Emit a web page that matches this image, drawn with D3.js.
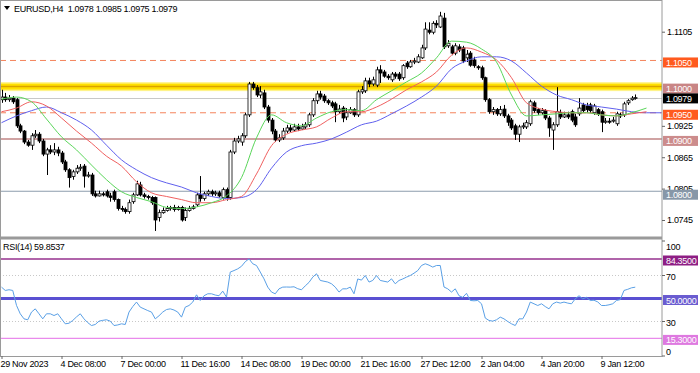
<!DOCTYPE html>
<html><head><meta charset="utf-8">
<script src="https://cdn.jsdelivr.net/npm/d3@7"></script>
<style>body{margin:0;background:#fff;} svg{display:block;font-family:"Liberation Sans",Arial,sans-serif;} text{letter-spacing:-0.3px;}</style>
</head><body><svg id="c" width="700" height="373"></svg>
<script>
// ---------- DATA ----------
const symbolTitle = "EURUSD,H4  1.0978 1.0985 1.0975 1.0979";
const rsiTitle = "RSI(14) 59.8537";
const opens = [1.0975,1.0980,1.0975,1.0978,1.0975,1.0925,1.0915,1.0894,1.0888,1.0906,
1.0909,1.0896,1.0871,1.0879,1.0875,1.0879,1.0873,1.0856,1.0841,1.0828,
1.0837,1.0844,1.0848,1.0829,1.0831,1.0795,1.0791,1.0795,1.0799,1.0791,
1.0799,1.0784,1.0767,1.0765,1.0761,1.0780,1.0793,1.0812,1.0793,1.0790,
1.0788,1.0788,1.0750,1.0759,1.0763,1.0767,1.0769,1.0765,1.0769,1.0750,
1.0763,1.0767,1.0774,1.0793,1.0786,1.0795,1.0799,1.0795,1.0797,1.0788,
1.0803,1.0788,1.0875,1.0896,1.0894,1.0906,1.0946,1.1005,1.0998,1.0984,
1.0988,1.0961,1.0936,1.0915,1.0898,1.0902,1.0915,1.0921,1.0917,1.0923,
1.0919,1.0923,1.0927,1.0946,1.0973,1.0986,1.0982,1.0973,1.0969,1.0967,
1.0952,1.0959,1.0942,1.0950,1.0956,1.0946,1.0990,1.0992,1.1011,1.1005,
1.1003,1.1032,1.1028,1.1020,1.1013,1.1024,1.1024,1.1017,1.1045,1.1038,
1.1047,1.1047,1.1055,1.1074,1.1108,1.1104,1.1121,1.1114,1.1131,1.1078,
1.1076,1.1064,1.1076,1.1074,1.1055,1.1064,1.1051,1.1038,1.1036,1.1017,
1.0975,1.0952,1.0956,1.0948,1.0957,1.0944,1.0936,1.0925,1.0909,1.0923,
1.0923,1.0929,1.0969,1.0956,1.0950,1.0954,1.0940,1.0917,1.0927,1.0950,
1.0942,1.0946,1.0952,1.0942,1.0948,1.0965,1.0963,1.0965,1.0950,1.0956,
1.0952,1.0932,1.0934,1.0934,1.0929,1.0946,1.0946,1.0969,1.0975,1.0978];
const highs = [1.0994,1.0988,1.0984,1.0982,1.0978,1.0929,1.0917,1.0898,1.0911,1.0917,
1.0913,1.0900,1.0883,1.0888,1.0892,1.0885,1.0877,1.0860,1.0844,1.0841,
1.0850,1.0852,1.0852,1.0837,1.0835,1.0801,1.0801,1.0799,1.0803,1.0797,
1.0803,1.0786,1.0772,1.0769,1.0784,1.0797,1.0820,1.0818,1.0797,1.0793,
1.0791,1.0790,1.0765,1.0769,1.0772,1.0772,1.0774,1.0772,1.0772,1.0769,
1.0772,1.0774,1.0797,1.0829,1.0799,1.0803,1.0803,1.0801,1.0801,1.0807,
1.0807,1.0879,1.0902,1.0906,1.0911,1.0950,1.1009,1.1009,1.1003,1.1001,
1.0994,1.0965,1.0940,1.0919,1.0909,1.0921,1.0927,1.0927,1.0929,1.0929,
1.0929,1.0932,1.0950,1.0978,1.0992,1.0992,1.0986,1.0976,1.0973,1.0971,
1.0965,1.0963,1.0959,1.0961,1.0959,1.0994,1.1001,1.1017,1.1017,1.1019,
1.1038,1.1041,1.1032,1.1024,1.1028,1.1028,1.1028,1.1043,1.1049,1.1051,
1.1055,1.1062,1.1080,1.1123,1.1123,1.1125,1.1127,1.1143,1.1141,1.1089,
1.1080,1.1083,1.1081,1.1078,1.1070,1.1068,1.1057,1.1041,1.1040,1.1019,
1.0978,1.0961,1.0959,1.0963,1.0965,1.0948,1.0940,1.0929,1.0927,1.0931,
1.0936,1.0975,1.0973,1.0959,1.0959,1.0957,1.0944,1.0932,1.0999,1.0956,
1.0952,1.0952,1.0956,1.0948,1.0978,1.0969,1.0969,1.0969,1.0967,1.0959,
1.0956,1.0940,1.0940,1.0942,1.0952,1.0950,1.0971,1.0976,1.0982,1.0985];
const lows = [1.0969,1.0971,1.0971,1.0967,1.0921,1.0911,1.0890,1.0885,1.0879,1.0902,
1.0892,1.0867,1.0831,1.0871,1.0869,1.0867,1.0852,1.0837,1.0807,1.0822,
1.0833,1.0839,1.0807,1.0826,1.0791,1.0788,1.0790,1.0790,1.0788,1.0780,
1.0780,1.0763,1.0761,1.0757,1.0757,1.0776,1.0791,1.0790,1.0786,1.0784,
1.0774,1.0724,1.0742,1.0757,1.0761,1.0763,1.0761,1.0763,1.0742,1.0743,
1.0761,1.0765,1.0770,1.0780,1.0782,1.0791,1.0791,1.0791,1.0788,1.0784,
1.0782,1.0784,1.0871,1.0892,1.0887,1.0902,1.0942,1.0994,1.0980,1.0978,
1.0957,1.0931,1.0909,1.0894,1.0894,1.0898,1.0911,1.0913,1.0915,1.0915,
1.0917,1.0919,1.0923,1.0942,1.0967,1.0975,1.0969,1.0965,1.0959,1.0932,
1.0948,1.0932,1.0936,1.0948,1.0942,1.0942,1.0986,1.0988,1.0999,1.1001,
1.0999,1.1007,1.1017,1.1013,1.1009,1.1015,1.1011,1.1013,1.1034,1.1036,
1.1043,1.1045,1.1053,1.1070,1.1100,1.1100,1.1112,1.1112,1.1072,1.1074,
1.1060,1.1060,1.1066,1.1045,1.1047,1.1038,1.1036,1.1032,1.1013,1.0971,
1.0948,1.0946,1.0944,1.0944,1.0940,1.0925,1.0917,1.0898,1.0894,1.0919,
1.0919,1.0925,1.0950,1.0946,1.0946,1.0936,1.0904,1.0879,1.0923,1.0938,
1.0940,1.0938,1.0932,1.0923,1.0944,1.0950,1.0950,1.0950,1.0946,1.0944,
1.0913,1.0929,1.0929,1.0931,1.0925,1.0940,1.0942,1.0965,1.0973,1.0975];
const closes = [1.0980,1.0975,1.0978,1.0971,1.0925,1.0915,1.0894,1.0888,1.0906,1.0909,
1.0896,1.0871,1.0879,1.0875,1.0879,1.0873,1.0856,1.0841,1.0826,1.0837,
1.0844,1.0846,1.0829,1.0831,1.0795,1.0791,1.0795,1.0793,1.0791,1.0788,
1.0784,1.0767,1.0765,1.0761,1.0778,1.0793,1.0814,1.0793,1.0790,1.0788,
1.0778,1.0745,1.0759,1.0763,1.0767,1.0769,1.0765,1.0769,1.0745,1.0763,
1.0767,1.0770,1.0793,1.0786,1.0795,1.0799,1.0795,1.0797,1.0791,1.0803,
1.0788,1.0875,1.0896,1.0900,1.0906,1.0946,1.1005,1.0998,1.0984,1.0990,
1.0961,1.0936,1.0915,1.0898,1.0902,1.0915,1.0921,1.0917,1.0923,1.0919,
1.0923,1.0927,1.0946,1.0973,1.0986,1.0980,1.0973,1.0969,1.0963,1.0952,
1.0957,1.0940,1.0950,1.0956,1.0946,1.0990,1.0994,1.1011,1.1005,1.1013,
1.1032,1.1026,1.1020,1.1017,1.1024,1.1020,1.1015,1.1040,1.1038,1.1047,
1.1049,1.1057,1.1074,1.1110,1.1104,1.1121,1.1118,1.1135,1.1076,1.1083,
1.1064,1.1078,1.1070,1.1049,1.1062,1.1041,1.1040,1.1036,1.1017,1.0975,
1.0952,1.0956,1.0948,1.0956,1.0944,1.0932,1.0921,1.0909,1.0923,1.0925,
1.0931,1.0971,1.0954,1.0950,1.0954,1.0940,1.0921,1.0927,1.0952,1.0942,
1.0946,1.0942,1.0936,1.0927,1.0959,1.0954,1.0956,1.0954,1.0963,1.0948,
1.0932,1.0934,1.0932,1.0936,1.0948,1.0944,1.0967,1.0973,1.0978,1.0979];
// Alligator lines, read every 4 bars (bar 0, 4, 8, ...)
const maSampleStep = 4;
const lipsGreen = [1.0976,1.0980,1.0971,1.0938,1.0904,1.0879,1.0850,1.0822,1.0799,1.0788,1.0780,1.0769,1.0767,1.0770,1.0778,1.0791,1.0826,1.0902,1.0946,1.0931,1.0925,1.0940,1.0952,1.0956,1.0954,1.0975,1.0992,1.1009,1.1026,1.1055,1.1087,1.1085,1.1072,1.1047,1.0984,1.0944,1.0946,1.0948,1.0950,1.0950,1.0946,1.0944,1.0950,1.0959];
const teethRed = [1.0952,1.0959,1.0971,1.0963,1.0940,1.0915,1.0892,1.0867,1.0848,1.0818,1.0797,1.0790,1.0784,1.0778,1.0778,1.0784,1.0790,1.0833,1.0887,1.0909,1.0917,1.0923,1.0940,1.0952,1.0952,1.0961,1.0976,1.0994,1.1009,1.1028,1.1060,1.1074,1.1066,1.1051,1.1017,1.0969,1.0957,1.0952,1.0950,1.0950,1.0946,1.0944,1.0948,1.0952];
const jawBlue = [1.0931,1.0944,1.0954,1.0961,1.0950,1.0936,1.0917,1.0888,1.0860,1.0841,1.0826,1.0816,1.0808,1.0797,1.0790,1.0786,1.0788,1.0803,1.0844,1.0875,1.0887,1.0892,1.0900,1.0913,1.0927,1.0934,1.0948,1.0963,1.0980,1.1001,1.1034,1.1049,1.1057,1.1057,1.1049,1.1026,1.1001,1.0984,1.0975,1.0965,1.0961,1.0957,1.0952,1.0950,1.0950];
const rsiValues = [59.9,57.0,57.6,57.0,44.0,36.7,32.3,31.5,38.2,41.0,
36.7,32.3,36.7,36.7,35.2,36.7,32.3,28.0,28.5,30.9,
34.0,36.7,32.3,29.0,26.5,27.4,30.3,31.0,31.5,30.3,
26.5,27.0,28.0,27.4,38.2,43.0,46.9,42.5,41.0,39.5,
38.2,32.3,35.0,38.2,40.4,41.0,40.0,38.2,33.8,42.5,
43.9,46.9,53.2,48.3,52.4,54.1,54.1,53.0,52.4,56.4,
51.2,73.0,74.3,75.8,78.0,82.0,84.5,80.2,78.7,73.0,
67.1,59.9,55.6,54.1,58.4,59.9,60.0,59.9,60.2,58.5,
57.6,61.0,64.0,68.6,71.5,65.7,65.0,64.3,62.8,59.9,
55.6,58.4,58.4,59.9,54.1,67.0,66.0,70.0,64.3,65.7,
70.0,65.7,65.0,64.3,67.1,62.8,65.7,67.0,68.6,70.0,
72.0,74.3,78.7,80.2,79.0,77.3,78.7,78.7,60.0,58.4,
55.6,58.4,52.4,51.0,54.5,48.3,48.0,48.3,45.4,33.0,
30.9,30.3,31.5,33.8,32.3,30.0,28.0,26.5,32.3,32.3,
38.2,46.9,45.4,43.9,45.4,43.0,41.0,45.4,46.9,46.0,
46.9,46.0,45.4,49.7,52.4,49.7,51.0,48.3,48.5,47.0,
43.9,43.9,44.5,45.4,48.3,49.0,57.0,58.0,59.3,59.85];
const dateLabels = ["29 Nov 2023","4 Dec 08:00","7 Dec 00:00","11 Dec 16:00","14 Dec 08:00","19 Dec 00:00","21 Dec 16:00","27 Dec 12:00","2 Jan 04:00","4 Jan 20:00","9 Jan 12:00"];
const dateLabelBars = [0,16,32,48,64,80,96,112,128,144,160];
const priceTicks = [1.1105,1.0925,1.0865,1.0805,1.0745];
const levelPrices = [1.1050,1.1000,1.0950,1.0900,1.0800];
const currentPrice = 1.0979;
const rsiTicks = [100,70,30,0];
const rsiLevels = [84.35,50,15.3];

// ---------- LAYOUT ----------
const svg = d3.select("#c");
const FONT = "Liberation Sans, Arial, sans-serif";
const plotR = 662, mainTop = 0, mainBot = 236, rsiTop = 240, rsiBot = 356;
const x = d3.scaleLinear().domain([0,176]).range([1.5,661.5]);
const y = d3.scaleLinear().domain([1.07144,1.11656]).range([mainBot,mainTop]);
const ry = d3.scaleLinear().domain([0,100]).range([356,241]);

const defs = svg.append("defs");
defs.append("clipPath").attr("id","cm").append("rect").attr("x",0).attr("y",1).attr("width",plotR).attr("height",mainBot-1);
defs.append("clipPath").attr("id","cr").append("rect").attr("x",0).attr("y",rsiTop).attr("width",plotR).attr("height",rsiBot-rsiTop);

const main = svg.append("g").attr("clip-path","url(#cm)");
const levelStyle = [
  {c:"#f4845c",w:1,dash:"6,4",bg:"#ff5a1e"},
  {c:"#d9a200",w:1.5,dash:null,bg:"#c98585"},
  {c:"#f4845c",w:1,dash:"6,4",bg:"#ff5a1e"},
  {c:"#c08585",w:1.5,dash:null,bg:"#cc8c8c"},
  {c:"#8c9cac",w:1.2,dash:null,bg:"#8797a8"}
];
// yellow band behind 1.1000
main.append("rect").attr("x",0).attr("width",plotR).attr("y",y(1.1000)-4.5).attr("height",9).attr("fill","#fff38a");
main.append("rect").attr("x",0).attr("width",plotR).attr("y",y(1.1000)-3).attr("height",6).attr("fill","#ffe000");
// current price line
main.append("line").attr("x1",0).attr("x2",plotR).attr("y1",Math.round(y(currentPrice))+0.5).attr("y2",Math.round(y(currentPrice))+0.5).attr("stroke","#c8c8c8").attr("stroke-width",1);
levelPrices.forEach((p,i)=>{
  const s=levelStyle[i];
  main.append("line").attr("x1",0).attr("x2",plotR).attr("y1",y(p)).attr("y2",y(p))
    .attr("stroke",s.c).attr("stroke-width",s.w).attr("stroke-dasharray",s.dash);
});

// candles
const bars = d3.range(closes.length).map(i=>({i,o:opens[i],h:highs[i],l:lows[i],c:closes[i]}));
const cg = main.append("g");
cg.selectAll("line.w").data(bars).join("line").attr("class","w")
  .attr("x1",d=>Math.round(x(d.i))+0.5).attr("x2",d=>Math.round(x(d.i))+0.5)
  .attr("y1",d=>y(d.h)).attr("y2",d=>y(d.l)).attr("stroke","#000").attr("stroke-width",1);
cg.selectAll("rect.b").data(bars).join("rect").attr("class","b")
  .attr("x",d=>Math.round(x(d.i))-1)
  .attr("width",3)
  .attr("y",d=>y(Math.max(d.o,d.c)))
  .attr("height",d=>Math.max(0.8,Math.abs(y(d.o)-y(d.c))))
  .attr("fill",d=>d.c>=d.o?"#fff":"#000").attr("stroke","#000").attr("stroke-width",0.8);

// alligator
const maLine = d3.line().x((d,k)=>x(k*maSampleStep)).y(d=>y(d)).curve(d3.curveMonotoneX);
[[jawBlue,"#6060ee"],[teethRed,"#f06060"],[lipsGreen,"#5ad65a"]].forEach(([arr,col])=>{
  main.append("path").attr("d",maLine(arr)).attr("fill","none").attr("stroke",col).attr("stroke-width",1);
});

// RSI panel
const rg = svg.append("g").attr("clip-path","url(#cr)");
[70,30].forEach(v=>rg.append("line").attr("x1",0).attr("x2",plotR).attr("y1",ry(v)).attr("y2",ry(v))
  .attr("stroke","#c8c8c8").attr("stroke-dasharray","1,2"));
const rsiStyle=[{c:"#96308e",w:1.5,bg:"#8e1e84"},{c:"#5a50d2",w:3,bg:"#6a5cd0"},{c:"#e98aec",w:1.2,bg:"#de79e0"}];
rsiLevels.forEach((v,i)=>rg.append("line").attr("x1",0).attr("x2",plotR).attr("y1",ry(v)).attr("y2",ry(v))
  .attr("stroke",rsiStyle[i].c).attr("stroke-width",rsiStyle[i].w));
rg.append("path").attr("d",d3.line().x((d,i)=>x(i)).y(d=>ry(d))(rsiValues))
  .attr("fill","none").attr("stroke","#5aa0e6").attr("stroke-width",1);

// frames
svg.append("rect").attr("x",0.5).attr("y",0.5).attr("width",plotR-0.5).attr("height",rsiBot).attr("fill","none").attr("stroke","#9a9a9a");
svg.append("line").attr("x1",0).attr("x2",plotR).attr("y1",238).attr("y2",238).attr("stroke","#9a9a9a").attr("stroke-width",3);

// right price axis
const pa = svg.append("g").attr("transform",`translate(${plotR},0)`)
  .call(d3.axisRight(y).tickValues(priceTicks).tickSize(3).tickPadding(2).tickFormat(d3.format(".4f")));
pa.select(".domain").remove();
pa.selectAll("text").attr("font-size",9).attr("fill","#000").attr("font-family",FONT);
pa.selectAll("line").attr("stroke","#666");

function box(yy,bg,txt){
  const g=svg.append("g");
  g.append("rect").attr("x",plotR+1).attr("y",yy-5).attr("width",35).attr("height",10).attr("fill",bg);
  g.append("text").attr("x",plotR+4).attr("y",yy+3.5).attr("font-size",9).attr("fill","#fff").text(txt);
}
levelPrices.forEach((p,i)=>box(y(p)+(p===1.08?3.5:2),levelStyle[i].bg,d3.format(".4f")(p)));
box(y(currentPrice)+0.8,"#000",d3.format(".4f")(currentPrice));

// RSI axis ticks + labels
const ra = svg.append("g");
ra.selectAll("line").data(rsiTicks).join("line").attr("x1",plotR).attr("x2",plotR+3)
  .attr("y1",d=>ry(d)).attr("y2",d=>ry(d)).attr("stroke","#666");
ra.selectAll("text").data(rsiTicks).join("text").attr("x",plotR+4)
  .attr("y",d=>d===100?ry(d)+8.5:(d===0?ry(d)-1:ry(d)+4))
  .attr("font-size",9).attr("fill","#000").text(d=>d);
rsiLevels.forEach((v,i)=>box(ry(v)+1.5,rsiStyle[i].bg,d3.format(".4f")(v)));

// bottom date axis
const da = svg.append("g").attr("transform",`translate(0,${rsiBot})`)
  .call(d3.axisBottom(x).tickValues(dateLabelBars).tickSize(3).tickPadding(2).tickFormat((d,i)=>dateLabels[i]));
da.select(".domain").remove();
da.selectAll("text").attr("font-size",9).attr("fill","#000").attr("text-anchor","start").attr("dx",-1.5)
  .attr("font-family",FONT);
da.selectAll("line").attr("stroke","#666");

// titles
svg.append("path").attr("d","M4,6 L10,6 L7,10 Z").attr("fill","#000");
svg.append("text").attr("x",14).attr("y",12).attr("font-size",9).attr("fill","#000").style("white-space","pre").text(symbolTitle);
svg.append("text").attr("x",3).attr("y",250).attr("font-size",9).attr("fill","#000").text(rsiTitle);
</script></body></html>
